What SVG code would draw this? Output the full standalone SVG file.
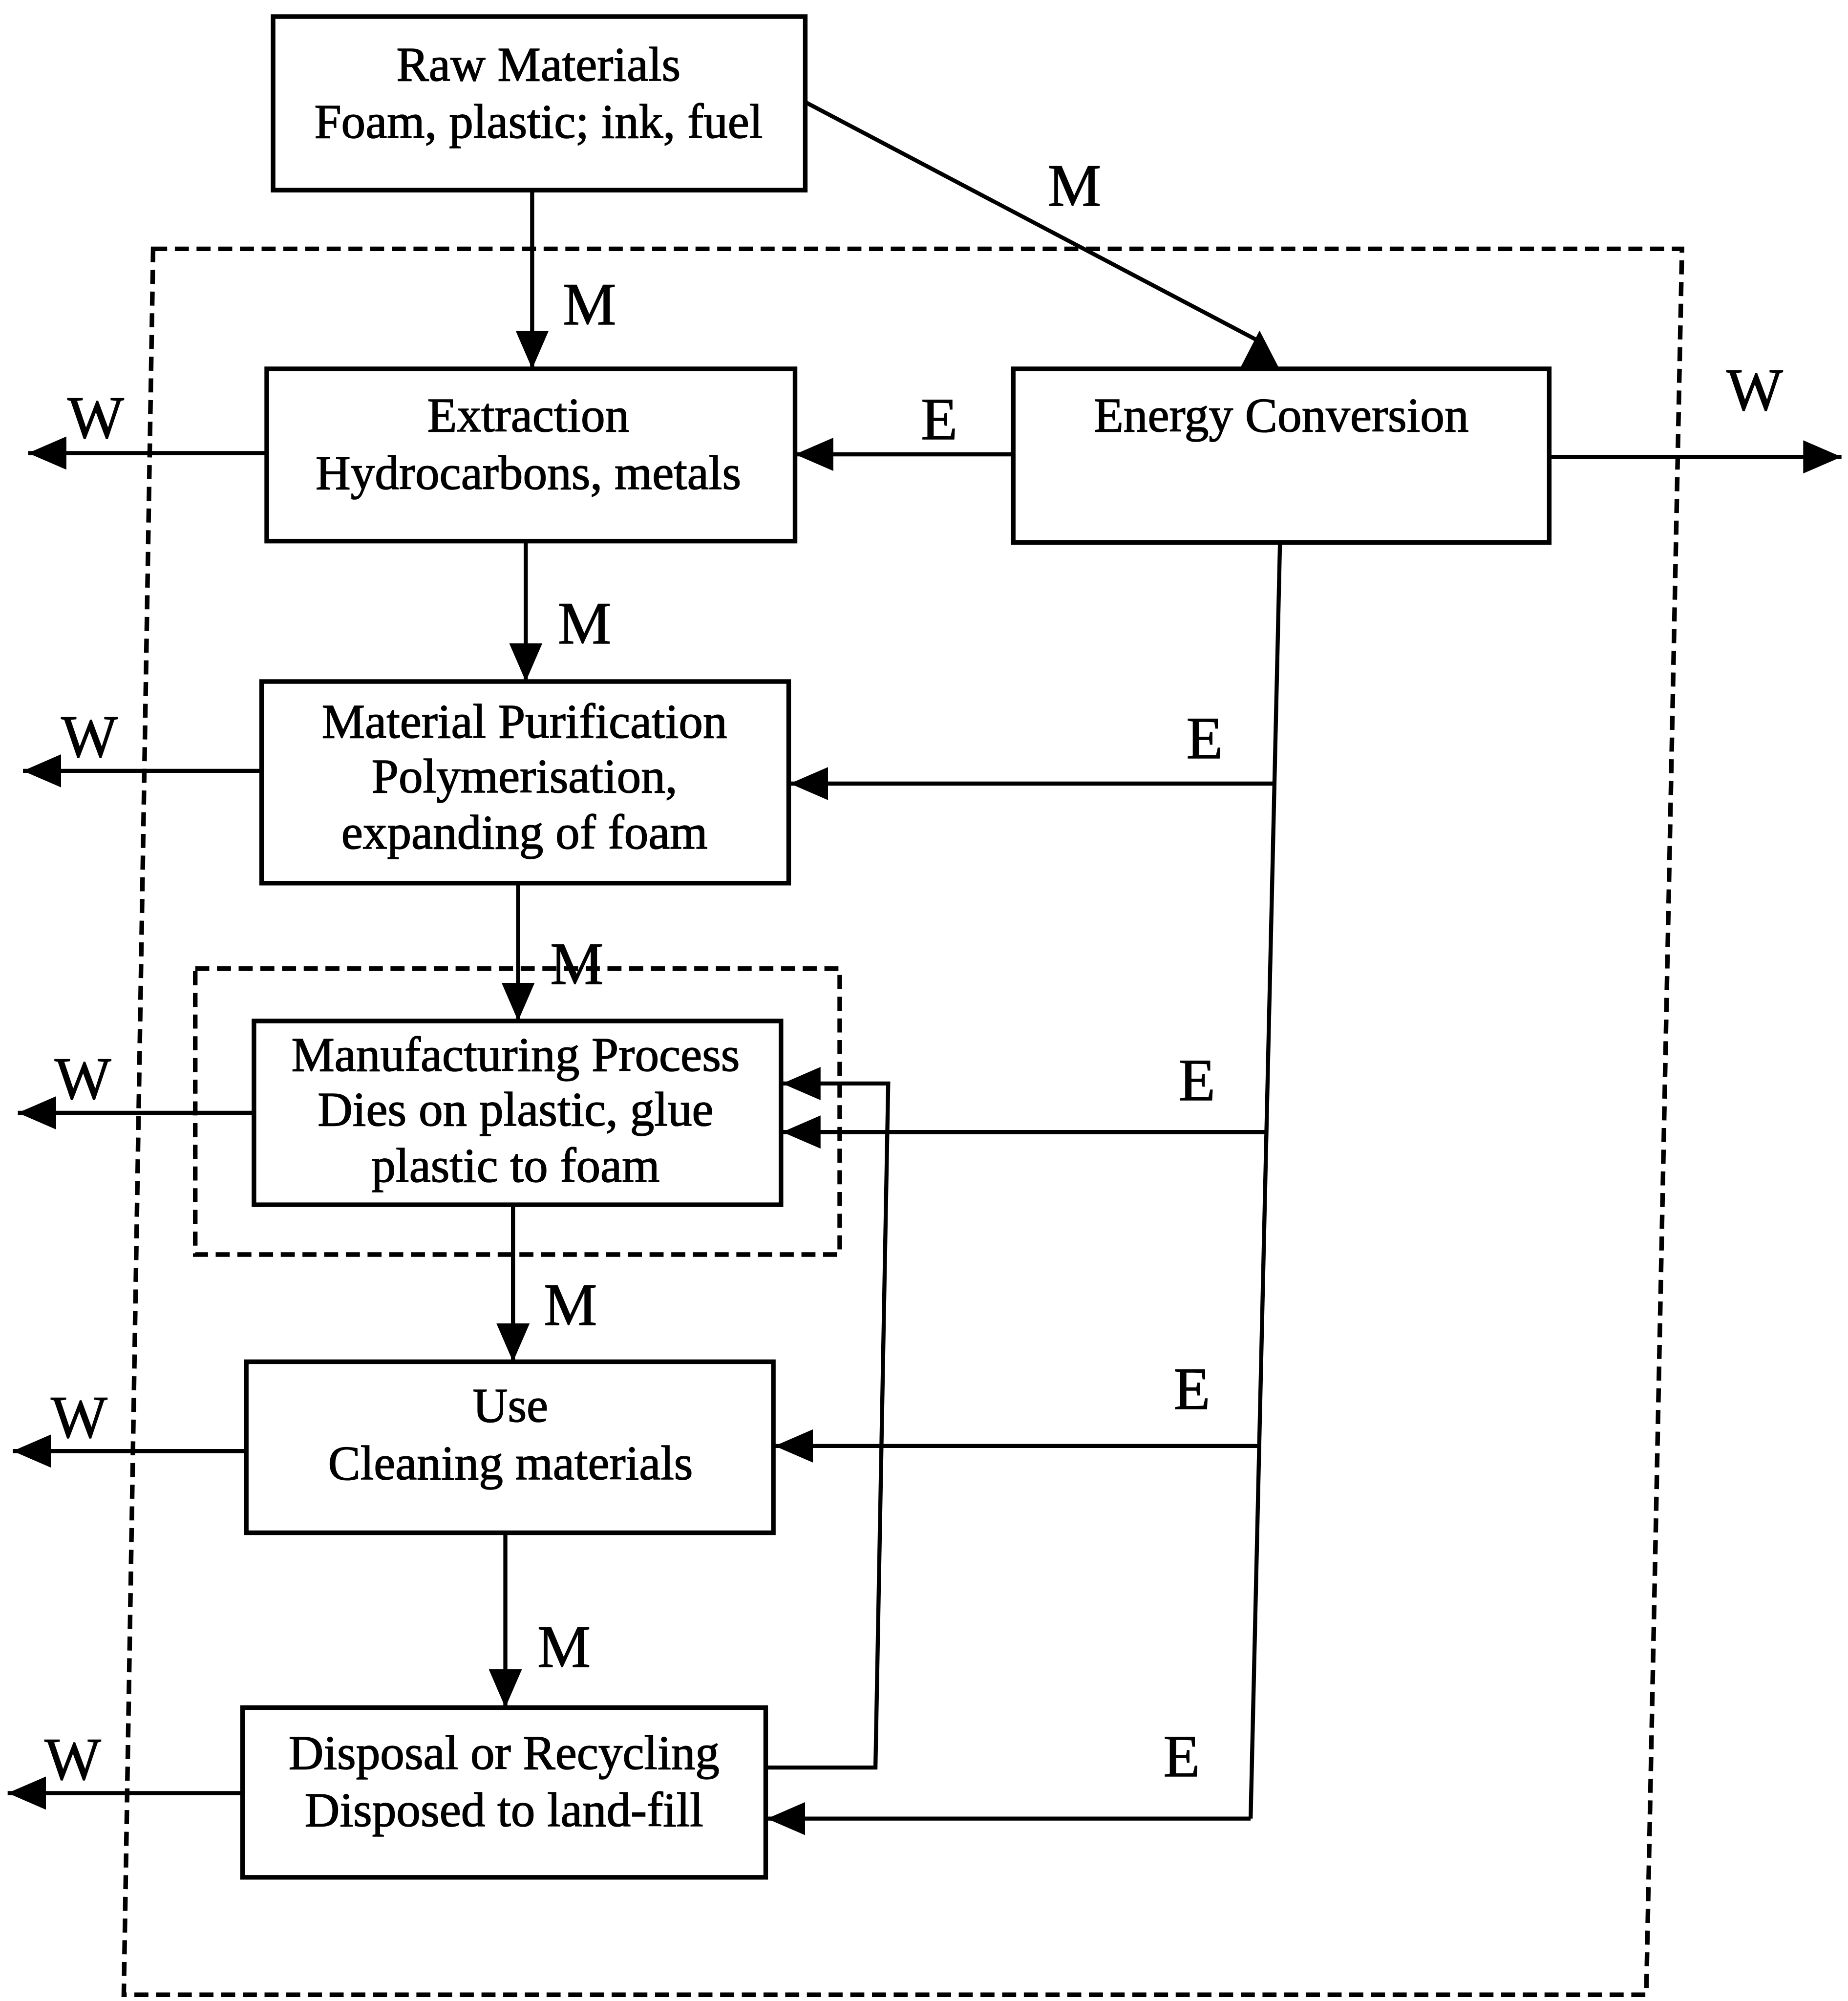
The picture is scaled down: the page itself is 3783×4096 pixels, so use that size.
<svg xmlns="http://www.w3.org/2000/svg" width="3783" height="4096" viewBox="0 0 3783 4096">
<defs>
<style>
.box{fill:#fff;stroke:#000;stroke-width:3.6}
.t{font-family:"Liberation Serif","Times New Roman",serif;font-size:38px;text-anchor:middle;fill:#000;stroke:#000;stroke-width:0.6}
.lb{font-family:"Liberation Serif","Times New Roman",serif;font-size:47px;text-anchor:middle;fill:#000;stroke:#000;stroke-width:0.5}
.c{fill:none;stroke:#000;stroke-width:3.2}
.dash{fill:none;stroke:#000;stroke-width:3.6;stroke-dasharray:11 6}
</style>
<marker id="ah" markerUnits="userSpaceOnUse" markerWidth="30" markerHeight="26" refX="30" refY="13" orient="auto">
<path d="M0,0 L30,13 L0,26 z" fill="#000"/>
</marker>
</defs>
<rect width="3783" height="4096" fill="#fff"/>
<g transform="scale(2.6124)">
<g id="boundary">
<path class="dash" d="M120,195 L1318,195 L1290,1563 L97,1563 Z"/>
<rect id="manufacturing-boundary" class="dash" x="153" y="759" width="505" height="224"/>
</g>
<g id="connectors">
<path class="c" d="M417,149 L417,289" marker-end="url(#ah)"/>
<path class="c" d="M631,80 L984,266"/>
<polygon points="987,259 1003,290 971,290" fill="#000"/>
<path class="c" d="M794,356 L623,356" marker-end="url(#ah)"/>
<path class="c" d="M1214,358 L1443,358" marker-end="url(#ah)"/>
<path class="c" d="M209,355 L22,355" marker-end="url(#ah)"/>
<path class="c" d="M412,424 L412,534" marker-end="url(#ah)"/>
<path class="c" d="M1003,425 L980,1425"/>
<path class="c" d="M999,614 L619,614" marker-end="url(#ah)"/>
<path class="c" d="M205,604 L18,604" marker-end="url(#ah)"/>
<path class="c" d="M406,692 L406,800" marker-end="url(#ah)"/>
<path class="c" d="M992,887 L613,887" marker-end="url(#ah)"/>
<path class="c" d="M199,872 L14,872" marker-end="url(#ah)"/>
<path class="c" d="M600,1385 L686,1385 L696,849 L613,849" marker-end="url(#ah)"/>
<path class="c" d="M402,944 L402,1067" marker-end="url(#ah)"/>
<path class="c" d="M987,1133 L607,1133" marker-end="url(#ah)"/>
<path class="c" d="M193,1137 L10,1137" marker-end="url(#ah)"/>
<path class="c" d="M396,1201 L396,1338" marker-end="url(#ah)"/>
<path class="c" d="M980,1425 L601,1425" marker-end="url(#ah)"/>
<path class="c" d="M190,1405 L6,1405" marker-end="url(#ah)"/>
<text class="lb" x="462" y="254">M</text>
<text class="lb" x="842" y="161">M</text>
<text class="lb" x="458" y="504">M</text>
<text class="lb" x="452" y="771">M</text>
<text class="lb" x="447" y="1038">M</text>
<text class="lb" x="442" y="1306">M</text>
<text class="lb" x="736" y="344">E</text>
<text class="lb" x="944" y="594">E</text>
<text class="lb" x="938" y="862">E</text>
<text class="lb" x="934" y="1104">E</text>
<text class="lb" x="926" y="1392">E</text>
<text class="lb" x="75" y="343">W</text>
<text class="lb" x="1375" y="321">W</text>
<text class="lb" x="70" y="593">W</text>
<text class="lb" x="65" y="861">W</text>
<text class="lb" x="62" y="1126">W</text>
<text class="lb" x="57" y="1394">W</text>
</g>
<g id="raw-materials">
<rect class="box" x="214" y="13" width="417" height="136"/>
<text class="t" x="422" y="63">Raw Materials</text>
<text class="t" x="422" y="108">Foam, plastic; ink, fuel</text>
</g>
<g id="extraction">
<rect class="box" x="209" y="289" width="414" height="135"/>
<text class="t" x="414" y="338">Extraction</text>
<text class="t" x="414" y="383">Hydrocarbons, metals</text>
</g>
<g id="energy-conversion">
<rect class="box" x="794" y="289" width="420" height="136"/>
<text class="t" x="1004" y="338">Energy Conversion</text>
</g>
<g id="material-purification">
<rect class="box" x="205" y="534" width="413" height="158"/>
<text class="t" x="411" y="578">Material Purification</text>
<text class="t" x="411" y="621">Polymerisation,</text>
<text class="t" x="411" y="665">expanding of foam</text>
</g>
<g id="manufacturing-process">
<rect class="box" x="199" y="800" width="413" height="144"/>
<text class="t" x="404" y="839">Manufacturing Process</text>
<text class="t" x="404" y="882">Dies on plastic, glue</text>
<text class="t" x="404" y="926">plastic to foam</text>
</g>
<g id="use">
<rect class="box" x="193" y="1067" width="413" height="134"/>
<text class="t" x="400" y="1114">Use</text>
<text class="t" x="400" y="1159">Cleaning materials</text>
</g>
<g id="disposal">
<rect class="box" x="190" y="1338" width="410" height="133"/>
<text class="t" x="395" y="1386">Disposal or Recycling</text>
<text class="t" x="395" y="1431">Disposed to land-fill</text>
</g>
</g>
</svg>
